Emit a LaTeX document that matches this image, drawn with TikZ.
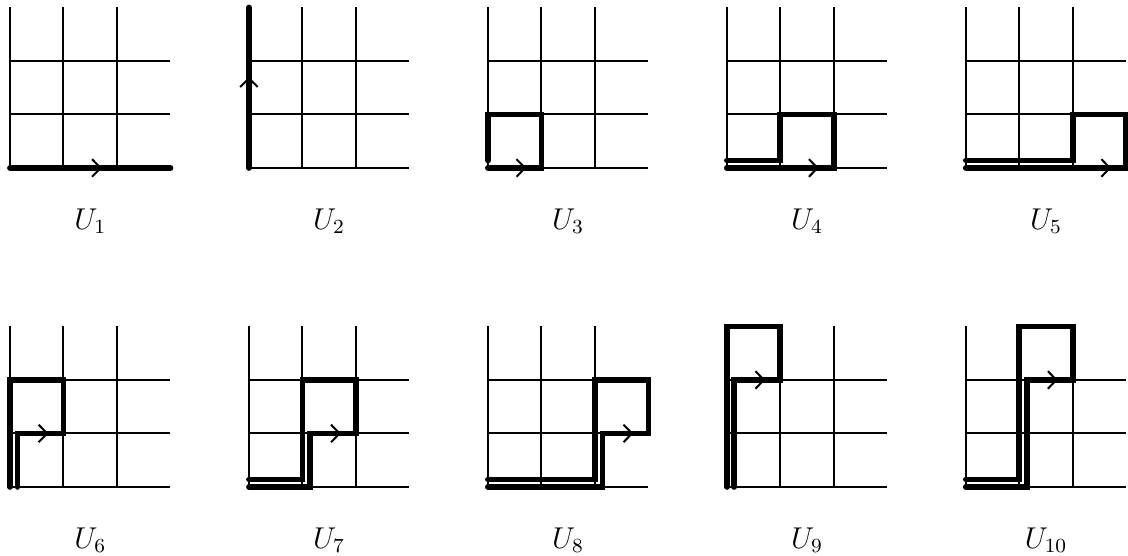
\documentclass[tikz,border=0pt]{standalone}
\usepackage{tikz}
\usetikzlibrary{arrows.meta}
\tikzset{
  gridline/.style={line width=0.8pt},
  walk/.style={line width=2.3pt,line cap=round,line join=miter},
  tipmark/.style={line width=0.8pt,-{Straight Barb[length=3.4pt,width=7pt]}},
  ulabel/.style={font=\large}
}
% one 3x3 lattice with its label
\newcommand{\gridpanel}[3]{%
  \draw[gridline] (#1,#2) -- ++(3,0) (#1,#2+1) -- ++(3,0) (#1,#2+2) -- ++(3,0)
    (#1,#2) -- ++(0,3) (#1+1,#2) -- ++(0,3) (#1+2,#2) -- ++(0,3);
  \node[ulabel] (U#3) at (#1+1.5,#2-1) {$U_{#3}$};
}
\begin{document}
\begin{tikzpicture}[x=0.75cm,y=0.75cm]
\useasboundingbox (-0.187,-7.25) rectangle (20.90,3.14);
\def\dx{4.467}
\def\dy{-5.963}
\def\e{0.14}
% lattices
\foreach \i in {0,...,4}{
  \pgfmathsetmacro{\xa}{\i*\dx}
  \pgfmathtruncatemacro{\na}{\i+1}
  \pgfmathtruncatemacro{\nb}{\i+6}
  \gridpanel{\xa}{0}{\na}
  \gridpanel{\xa}{\dy}{\nb}
}
% top row
\begin{scope}[shift={(0,0)}]
  \draw[walk] (0,0) -- (3,0);
  \draw[tipmark] (1.6,0) -- (1.72,0);
\end{scope}
\begin{scope}[shift={(\dx,0)}]
  \draw[walk] (0,0) -- (0,3);
  \draw[tipmark] (0,1.58) -- (0,1.70);
\end{scope}
\begin{scope}[shift={(2*\dx,0)}]
  \draw[walk] (0,0) -- (1,0) -- (1,1) -- (0,1) -- (0,\e);
  \draw[tipmark] (0.6,0) -- (0.72,0);
\end{scope}
\begin{scope}[shift={(3*\dx,0)}]
  \draw[walk] (0,\e) -- (1,\e) -- (1,1) -- (2,1) -- (2,0) -- (0,0);
  \draw[tipmark] (1.6,0) -- (1.72,0);
\end{scope}
\begin{scope}[shift={(4*\dx,0)}]
  \draw[walk] (0,\e) -- (2,\e) -- (2,1) -- (3,1) -- (3,0) -- (0,0);
  \draw[tipmark] (2.6,0) -- (2.72,0);
\end{scope}
% bottom row
\begin{scope}[shift={(0,\dy)}]
  \draw[walk] (\e,0) -- (\e,1) -- (1,1) -- (1,2) -- (0,2) -- (0,0);
  \draw[tipmark] (0.6,1) -- (0.72,1);
\end{scope}
\begin{scope}[shift={(\dx,\dy)}]
  \draw[walk] (0,\e) -- (1,\e) -- (1,2) -- (2,2) -- (2,1) -- (1+\e,1) -- (1+\e,0) -- (0,0);
  \draw[tipmark] (1.6,1) -- (1.72,1);
\end{scope}
\begin{scope}[shift={(2*\dx,\dy)}]
  \draw[walk] (0,\e) -- (2,\e) -- (2,2) -- (3,2) -- (3,1) -- (2+\e,1) -- (2+\e,0) -- (0,0);
  \draw[tipmark] (2.6,1) -- (2.72,1);
\end{scope}
\begin{scope}[shift={(3*\dx,\dy)}]
  \draw[walk] (\e,0) -- (\e,2) -- (1,2) -- (1,3) -- (0,3) -- (0,0);
  \draw[tipmark] (0.6,2) -- (0.72,2);
\end{scope}
\begin{scope}[shift={(4*\dx,\dy)}]
  \draw[walk] (0,\e) -- (1,\e) -- (1,3) -- (2,3) -- (2,2) -- (1+\e,2) -- (1+\e,0) -- (0,0);
  \draw[tipmark] (1.6,2) -- (1.72,2);
\end{scope}
\end{tikzpicture}
\end{document}
